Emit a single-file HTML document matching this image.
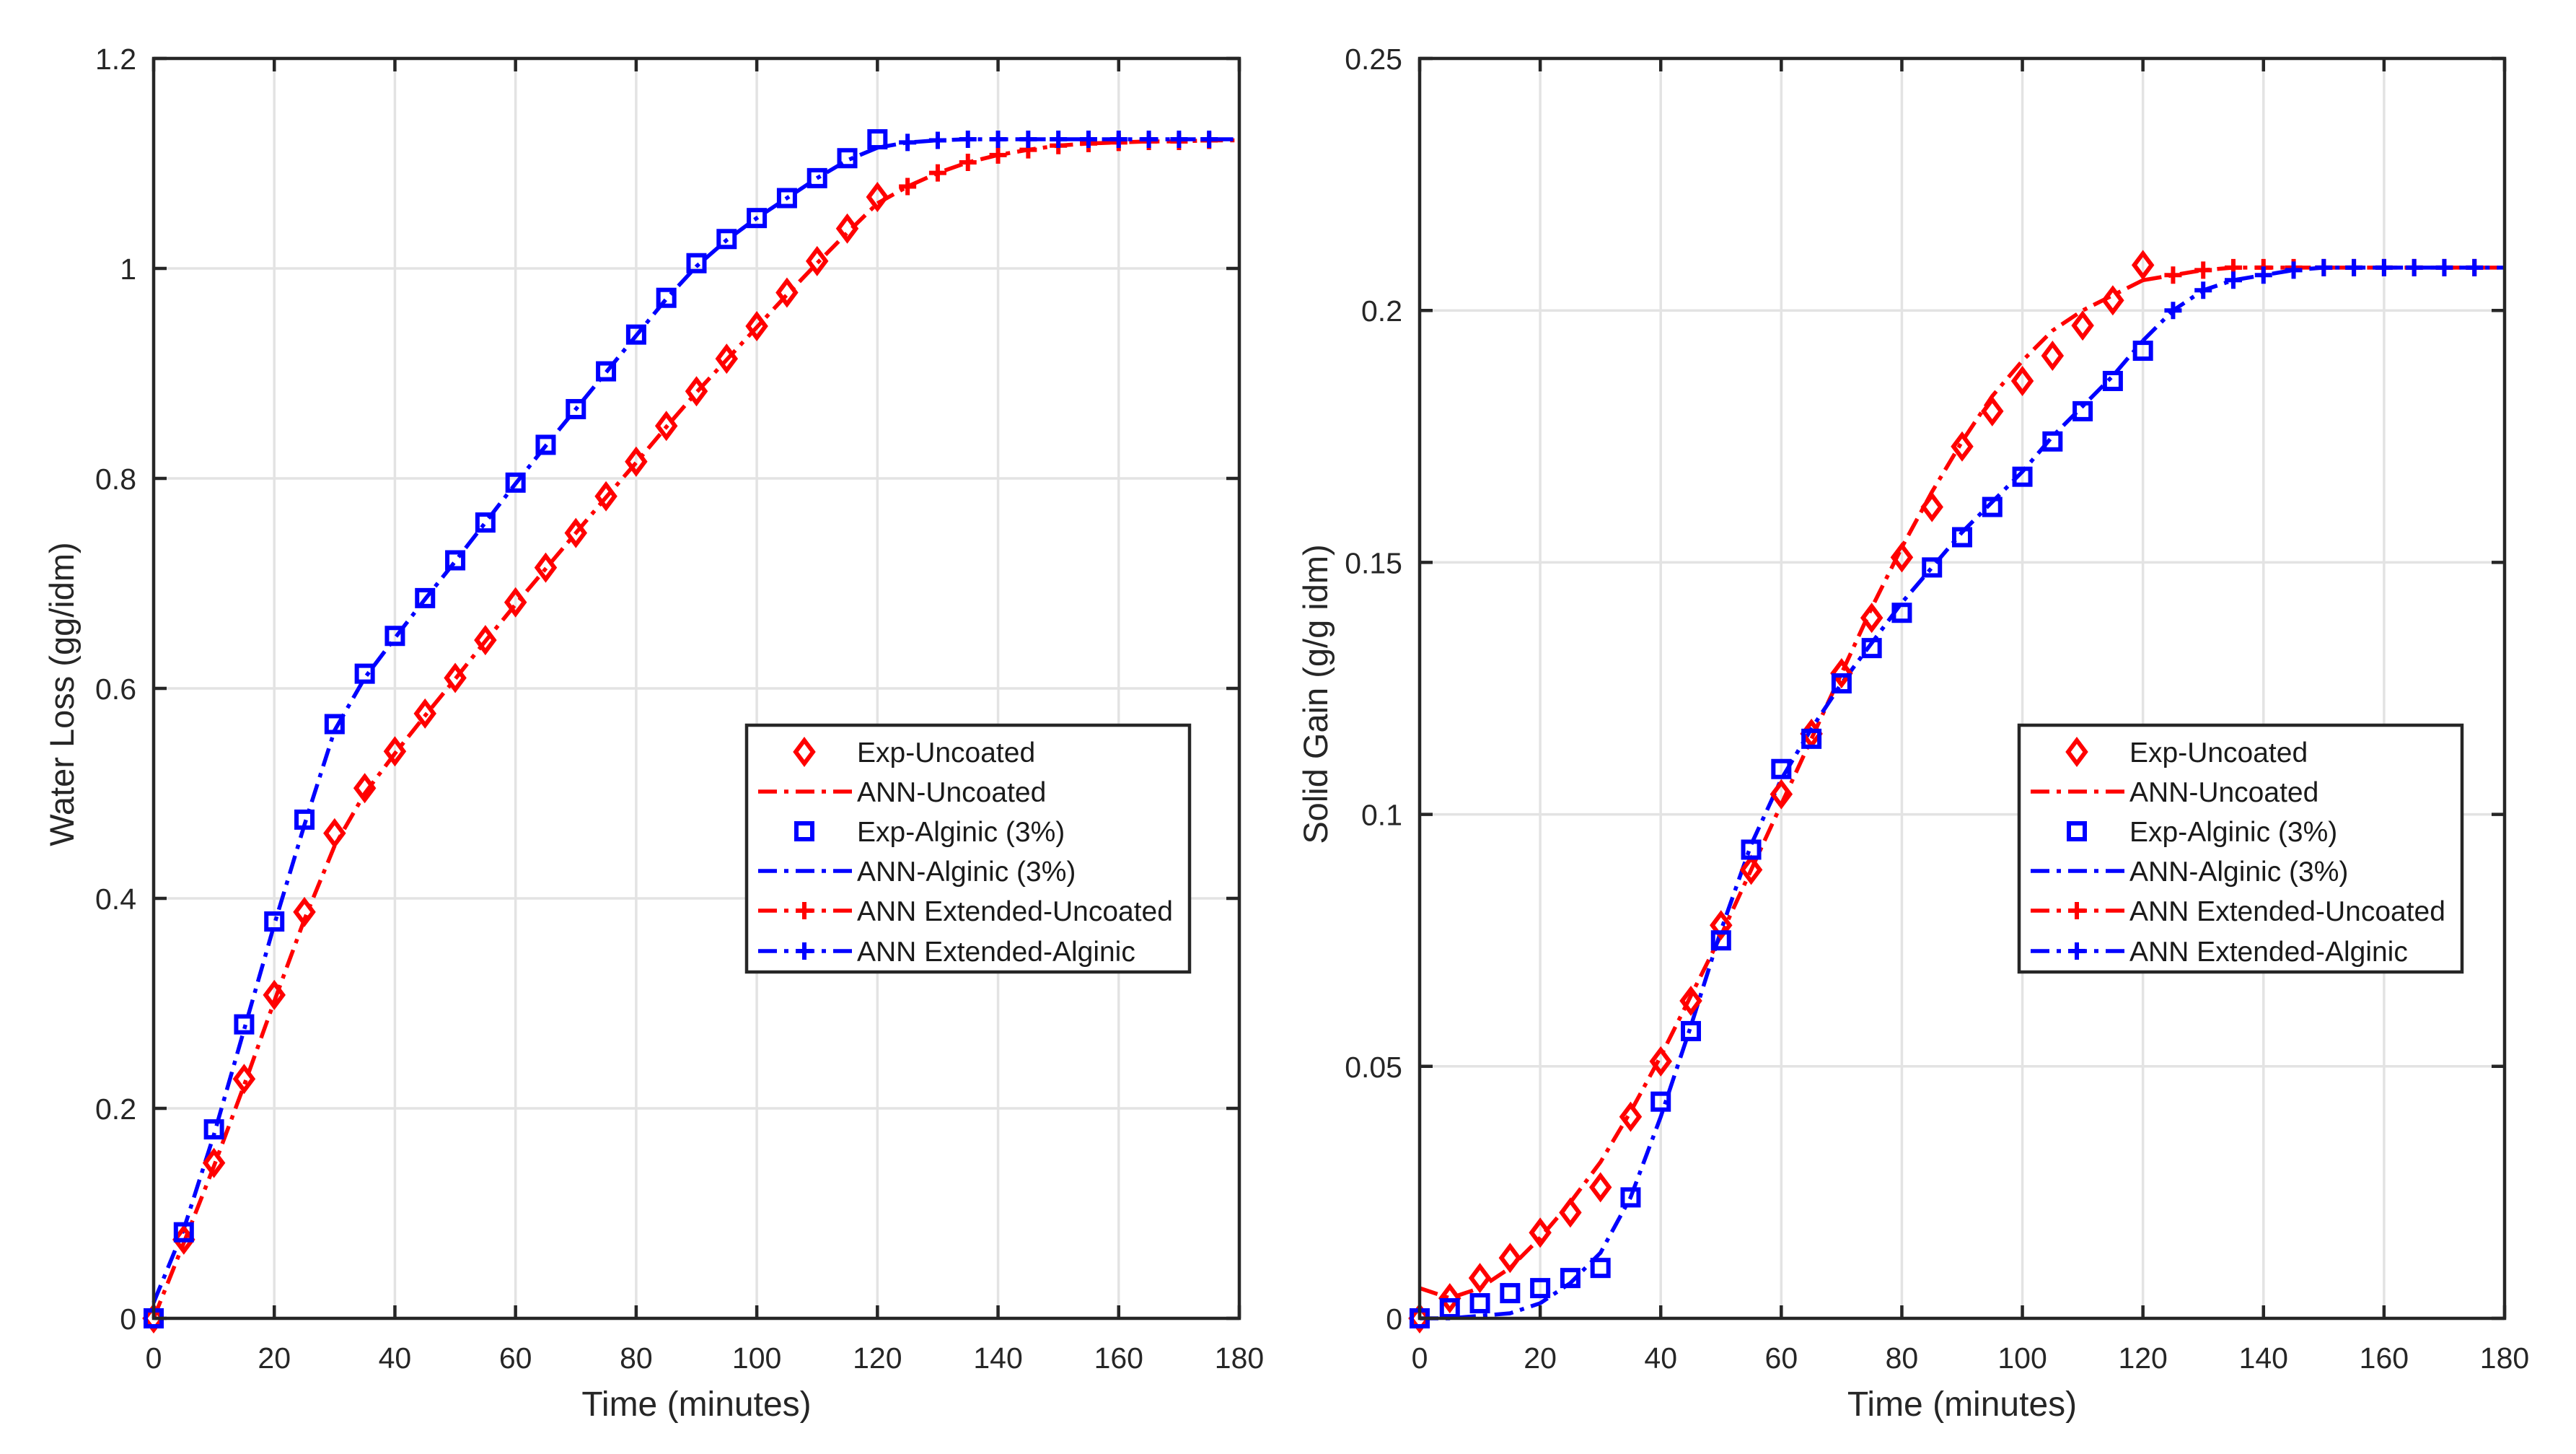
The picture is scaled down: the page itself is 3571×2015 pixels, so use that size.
<!DOCTYPE html>
<html><head><meta charset="utf-8"><style>
html,body{margin:0;padding:0;background:#fff;}
svg{display:block;font-family:"Liberation Sans",Arial,sans-serif;}
</style></head><body>
<svg id="fig" width="3571" height="2015" viewBox="0 0 3571 2015" xmlns="http://www.w3.org/2000/svg">
<rect width="3571" height="2015" fill="#fff"/>
</svg>
<script>
const timeExp = [0,5,10,15,20,25,30,35,40,45,50,55,60,65,70,75,80,85,90,95,100,105,110,115,120];
const timeExt = [120,125,130,135,140,145,150,155,160,165,170,175,180];
const xTicks = [0,20,40,60,80,100,120,140,160,180];

// Left chart: Water Loss
const wlExpUncoated = [0,0.075,0.148,0.228,0.308,0.387,0.462,0.505,0.54,0.576,0.61,0.646,0.682,0.715,0.748,0.783,0.816,0.85,0.883,0.914,0.945,0.977,1.007,1.038,1.068];
const wlAnnUncoated = [0,0.072,0.145,0.222,0.302,0.38,0.45,0.5,0.538,0.574,0.609,0.645,0.68,0.714,0.748,0.782,0.815,0.849,0.882,0.913,0.944,0.975,1.005,1.034,1.062];
const wlExpAlginic = [0,0.082,0.18,0.28,0.378,0.475,0.566,0.614,0.65,0.686,0.722,0.758,0.796,0.832,0.866,0.902,0.937,0.972,1.005,1.028,1.048,1.067,1.086,1.105,1.123];
const wlAnnAlginic = [0.015,0.085,0.175,0.275,0.375,0.47,0.56,0.61,0.648,0.685,0.721,0.758,0.795,0.831,0.866,0.901,0.936,0.971,1.002,1.027,1.048,1.067,1.086,1.103,1.115];
const wlExtUncoated = [1.062,1.078,1.091,1.101,1.108,1.113,1.117,1.119,1.12,1.121,1.121,1.122,1.122];
const wlExtAlginic = [1.115,1.12,1.122,1.123,1.123,1.123,1.123,1.123,1.123,1.123,1.123,1.123,1.123];
const wlYTicks = [0,0.2,0.4,0.6,0.8,1,1.2];
const wlYLabels = ["0","0.2","0.4","0.6","0.8","1","1.2"];

// Right chart: Solid Gain
const sgExpUncoated = [0,0.004,0.008,0.012,0.017,0.021,0.026,0.04,0.051,0.063,0.078,0.089,0.104,0.116,0.128,0.139,0.151,0.161,0.173,0.18,0.186,0.191,0.197,0.202,0.209];
const sgAnnUncoated = [0.006,0.004,0.006,0.01,0.016,0.023,0.031,0.041,0.052,0.064,0.076,0.089,0.102,0.115,0.128,0.141,0.153,0.164,0.174,0.183,0.19,0.196,0.2,0.203,0.206];
const sgExpAlginic = [0,0.002,0.003,0.005,0.006,0.008,0.01,0.024,0.043,0.057,0.075,0.093,0.109,0.115,0.126,0.133,0.14,0.149,0.155,0.161,0.167,0.174,0.18,0.186,0.192];
const sgAnnAlginic = [0,0,0.0005,0.001,0.003,0.007,0.013,0.024,0.04,0.058,0.077,0.094,0.107,0.117,0.126,0.134,0.142,0.149,0.156,0.162,0.168,0.175,0.181,0.187,0.194];
const sgExtUncoated = [0.206,0.207,0.208,0.2085,0.2085,0.2085,0.2085,0.2085,0.2085,0.2085,0.2085,0.2085,0.2085];
const sgExtAlginic = [0.194,0.2,0.204,0.206,0.207,0.208,0.2085,0.2085,0.2085,0.2085,0.2085,0.2085,0.2085];
const sgYTicks = [0,0.05,0.1,0.15,0.2,0.25];
const sgYLabels = ["0","0.05","0.1","0.15","0.2","0.25"];

const legendLabels = ["Exp-Uncoated","ANN-Uncoated","Exp-Alginic (3%)","ANN-Alginic (3%)","ANN Extended-Uncoated","ANN Extended-Alginic"];

const NS = "http://www.w3.org/2000/svg";
const svg = document.getElementById('fig');
function mk(tag, attrs, parent){
  const e = document.createElementNS(NS, tag);
  for (const k in attrs) e.setAttribute(k, attrs[k]);
  (parent||svg).appendChild(e);
  return e;
}
const RED = "#ff0000", BLUE = "#0000ff", DASH = "26,10,6,10", LW = 5.5, MW = 6;

function diamond(g, x, y){ return mk('polygon',{points:`${x},${y-16} ${x+12},${y} ${x},${y+16} ${x-12},${y}`,fill:'none',stroke:RED,'stroke-width':MW},g); }
function square(g, x, y){ return mk('rect',{x:x-11,y:y-11,width:22,height:22,fill:'none',stroke:BLUE,'stroke-width':MW},g); }
function plus(g, x, y, c){ return mk('path',{d:`M${x-12},${y}H${x+12}M${x},${y-12}V${y+12}`,stroke:c,'stroke-width':MW,fill:'none'},g); }

function chart(cfg){
  const L=cfg.left, R=cfg.right, T=81, B=1827;
  const sx = v => L + (v/180)*(R-L);
  const sy = v => B - (v/cfg.ymax)*(B-T);
  const g = mk('g',{});
  
  
  const grid = mk('g',{},g);
  
  
  xTicks.forEach(t=>{ if(t>0&&t<180) mk('line',{x1:sx(t),x2:sx(t),y1:T,y2:B,stroke:'#e3e3e3','stroke-width':3.5},grid); });
  cfg.yt.forEach(t=>{ if(t>0&&t<cfg.ymax) mk('line',{x1:L,x2:R,y1:sy(t),y2:sy(t),stroke:'#e3e3e3','stroke-width':3.5},grid); });
  function line(xs, ys, color, nm){
    const p = mk('polyline',{points:xs.map((x,i)=>sx(x)+','+sy(ys[i])).join(' '),fill:'none',stroke:color,'stroke-width':LW,'stroke-dasharray':DASH},g);
    
    
  }
  line(timeExp, cfg.annU, RED, 'ann-uncoated-line');
  line(timeExp, cfg.annA, BLUE, 'ann-alginic-line');
  line(timeExt, cfg.extU, RED, 'ann-extended-uncoated-line');
  line(timeExt, cfg.extA, BLUE, 'ann-extended-alginic-line');
  timeExt.forEach((t,i)=>{ if(i>0&&t<180){ const m=plus(g,sx(t),sy(cfg.extU[i]),RED);
      } });
  timeExt.forEach((t,i)=>{ if(i>0&&t<180){ const m=plus(g,sx(t),sy(cfg.extA[i]),BLUE);
      } });
  timeExp.forEach((t,i)=>{ const m=diamond(g,sx(t),sy(cfg.expU[i]));
      });
  timeExp.forEach((t,i)=>{ const m=square(g,sx(t),sy(cfg.expA[i]));
      });
  const ax = mk('rect',{x:L,y:T,width:R-L,height:B-T,fill:'none',stroke:'#262626','stroke-width':4.5},g);
   
  xTicks.forEach(t=>{
    mk('line',{x1:sx(t),x2:sx(t),y1:B,y2:B-18,stroke:'#262626','stroke-width':4.5},g);
    mk('line',{x1:sx(t),x2:sx(t),y1:T,y2:T+18,stroke:'#262626','stroke-width':4.5},g);
    const tx = mk('text',{x:sx(t),y:1896,'font-size':41,'text-anchor':'middle',fill:'#262626'},g);
    tx.textContent = t;
     
  });
  cfg.yt.forEach((t,i)=>{
    mk('line',{x1:L,x2:L+18,y1:sy(t),y2:sy(t),stroke:'#262626','stroke-width':4.5},g);
    mk('line',{x1:R,x2:R-18,y1:sy(t),y2:sy(t),stroke:'#262626','stroke-width':4.5},g);
    const tx = mk('text',{x:L-24,y:sy(t)+15,'font-size':41,'text-anchor':'end',fill:'#262626'},g);
    tx.textContent = cfg.yl[i];
     
  });
  const xt = mk('text',{x:(L+R)/2,y:1962,'font-size':48,'text-anchor':'middle',fill:'#262626'},g);
  xt.textContent = 'Time (minutes)';
   
  const yt = mk('text',{x:0,y:0,'font-size':47,'text-anchor':'middle',fill:'#262626',transform:`translate(${cfg.ytx},962) rotate(-90)`},g);
  yt.textContent = cfg.ytitle;
   
  const lg = mk('g',{},g);
  
  
  const lx = cfg.lx;
  mk('rect',{x:lx,y:1005,width:614,height:342,fill:'#fff',stroke:'#262626','stroke-width':4.5},lg);
  const rows=[1042,1097,1152,1207,1262,1318];
  legendLabels.forEach((lab,i)=>{
    const y=rows[i];
    const col = (i===0||i===1||i===4)?RED:BLUE;
    if(i===0) diamond(lg,lx+80,y);
    else if(i===2) square(lg,lx+80,y);
    else {
      mk('line',{x1:lx+16,x2:lx+148,y1:y,y2:y,stroke:col,'stroke-width':LW,'stroke-dasharray':DASH},lg);
      if(i>=4) plus(lg,lx+80,y,col);
    }
    const tx = mk('text',{x:lx+153,y:y+14,'font-size':39,fill:'#1a1a1a'},lg);
    tx.textContent = lab;
     
  });
}
chart({name:'water-loss-chart',left:213,right:1718,ymax:1.2,yt:wlYTicks,yl:wlYLabels,ytitle:'Water Loss (gg/idm)',ytx:102,lx:1035,
  expU:wlExpUncoated,annU:wlAnnUncoated,expA:wlExpAlginic,annA:wlAnnAlginic,extU:wlExtUncoated,extA:wlExtAlginic});
chart({name:'solid-gain-chart',left:1968,right:3472,ymax:0.25,yt:sgYTicks,yl:sgYLabels,ytitle:'Solid Gain (g/g idm)',ytx:1840,lx:2799,
  expU:sgExpUncoated,annU:sgAnnUncoated,expA:sgExpAlginic,annA:sgAnnAlginic,extU:sgExtUncoated,extA:sgExtAlginic});
</script>
</body></html>
